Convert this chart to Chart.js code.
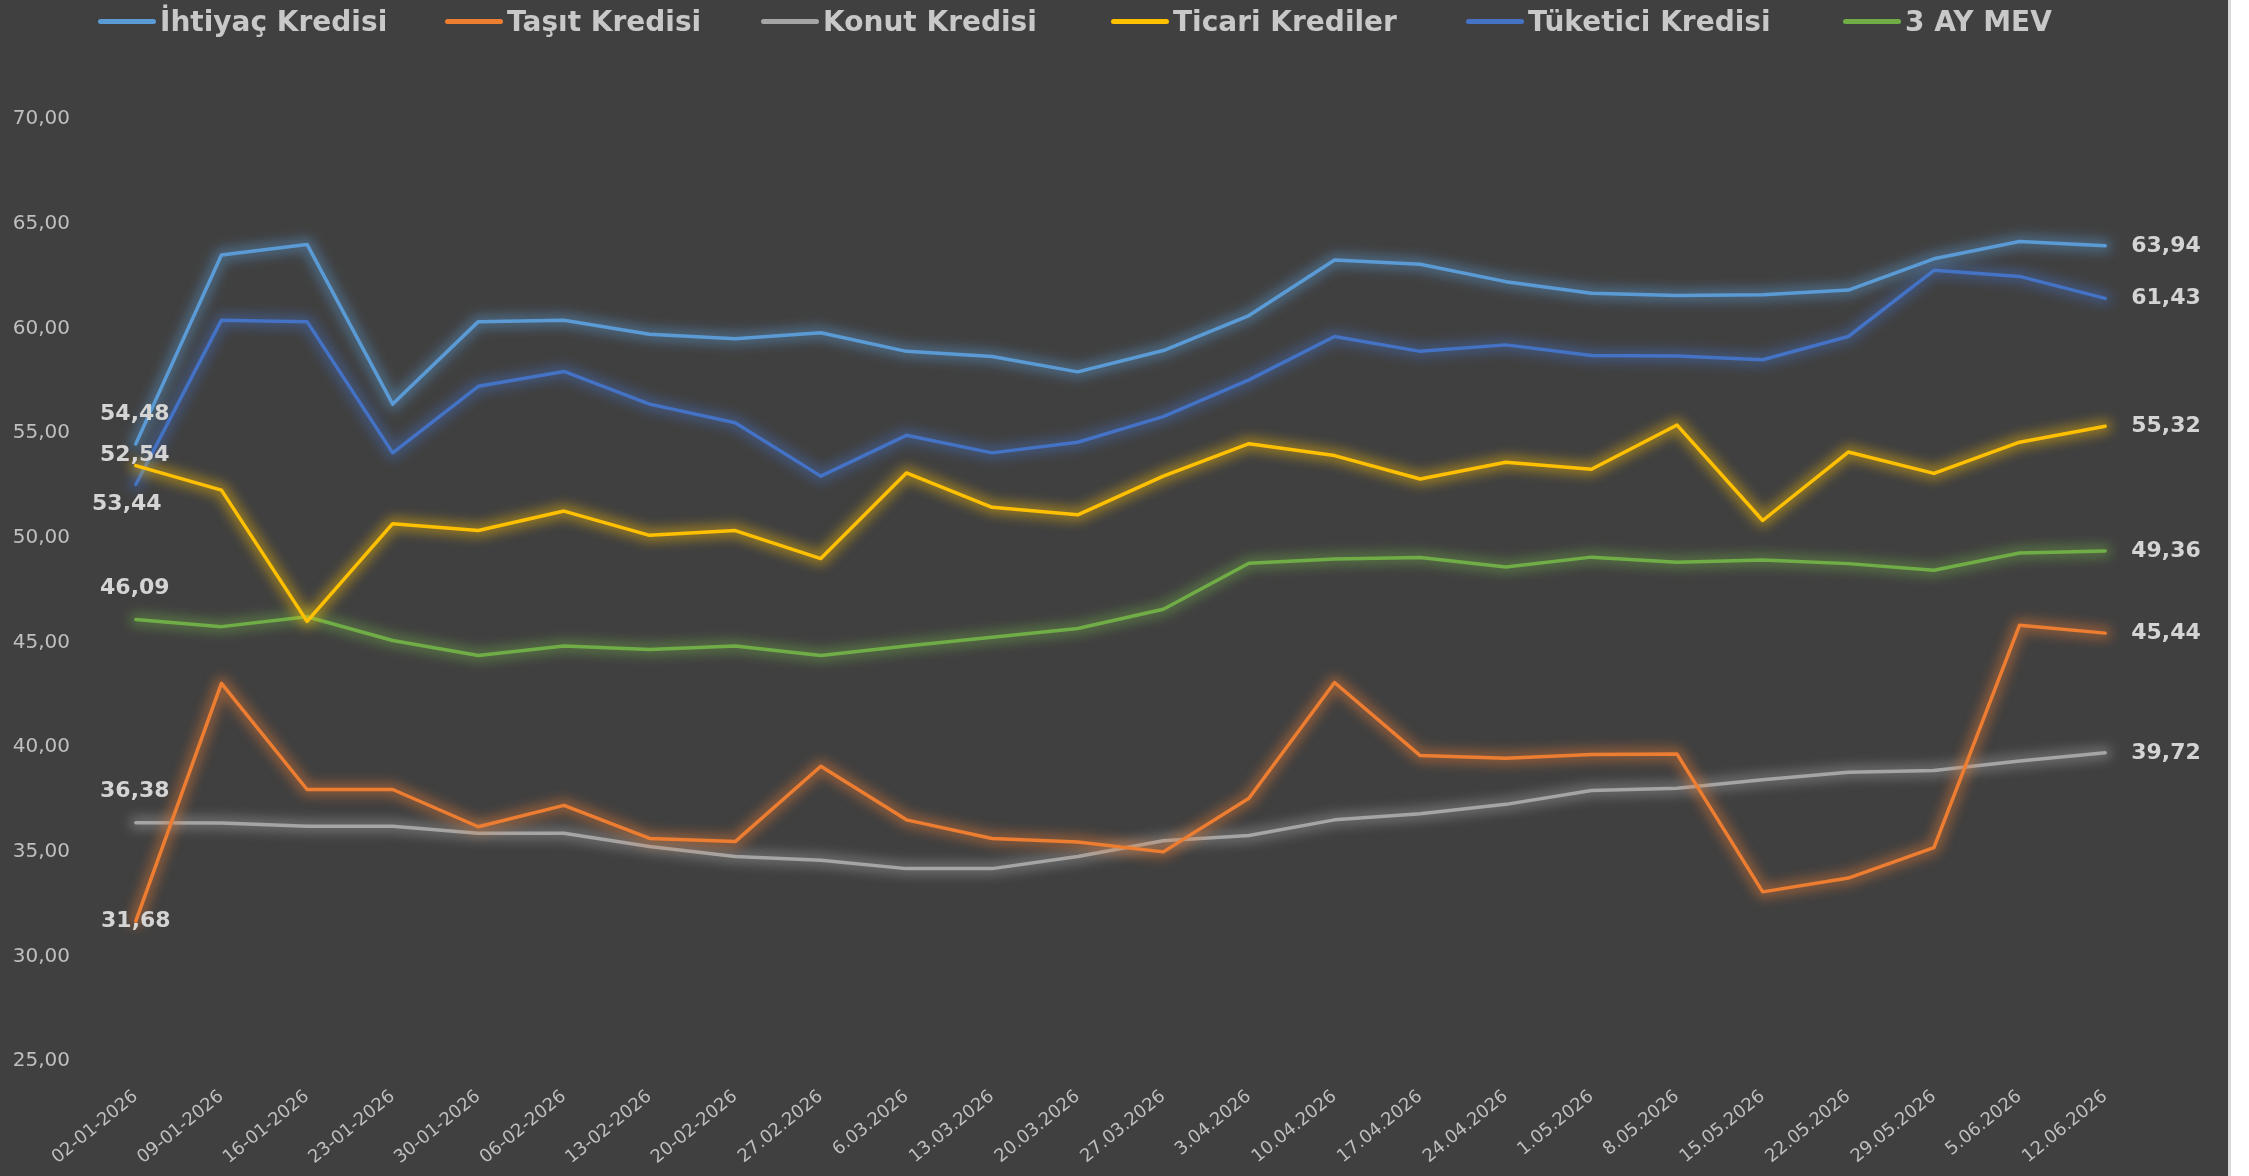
<!DOCTYPE html>
<html>
<head>
<meta charset="utf-8">
<script src="https://cdn.jsdelivr.net/npm/chart.js@4.4.1/dist/chart.umd.min.js"></script>
<style>
    html, body { margin: 0; padding: 0; background: #ffffff; }
    #wrap { position: relative; width: 2228px; height: 1176px; background: #404040; border-right: 3px solid #d9d9d9; }
    #chart { position: absolute; left: 0; top: 0; }
    .legendItem { position: absolute; top: 4px; height: 34px; display: flex; align-items: center; white-space: nowrap;
        font: bold 28px "DejaVu Sans", sans-serif; color: #c8c8c8; }
    .legendLine { width: 58px; height: 5px; border-radius: 3px; margin-right: 4px; }
</style>
</head>
<body>
<div id="wrap">
    <canvas id="chart" width="2228" height="1176"></canvas>
    <div id="legend"></div>
</div>
<script>
const dates = ['02-01-2026', '09-01-2026', '16-01-2026', '23-01-2026', '30-01-2026', '06-02-2026',
    '13-02-2026', '20-02-2026', '27.02.2026', '6.03.2026', '13.03.2026', '20.03.2026', '27.03.2026',
    '3.04.2026', '10.04.2026', '17.04.2026', '24.04.2026', '1.05.2026', '8.05.2026', '15.05.2026',
    '22.05.2026', '29.05.2026', '5.06.2026', '12.06.2026'];

const seriesNames = ['İhtiyaç Kredisi', 'Taşıt Kredisi', 'Konut Kredisi', 'Ticari Krediler', 'Tüketici Kredisi', '3 AY MEV'];

const ihtiyac = [54.48, 63.50, 64.01, 56.38, 60.32, 60.39, 59.72, 59.50, 59.79, 58.90, 58.65, 57.92,
    58.94, 60.61, 63.26, 63.06, 62.23, 61.68, 61.57, 61.61, 61.83, 63.32, 64.15, 63.94];
const tasit = [31.68, 43.04, 37.97, 37.97, 36.19, 37.21, 35.63, 35.48, 39.08, 36.52, 35.63, 35.46,
    34.99, 37.55, 43.08, 39.59, 39.46, 39.64, 39.66, 33.08, 33.74, 35.19, 45.82, 45.44];
const konut = [36.38, 36.37, 36.21, 36.21, 35.88, 35.88, 35.25, 34.77, 34.59, 34.19, 34.19, 34.77,
    35.52, 35.77, 36.52, 36.81, 37.26, 37.92, 38.03, 38.44, 38.79, 38.88, 39.33, 39.72];
const ticari = [53.44, 52.27, 46.00, 50.67, 50.34, 51.27, 50.11, 50.34, 49.00, 53.09, 51.45, 51.09,
    52.94, 54.49, 53.92, 52.80, 53.60, 53.27, 55.38, 50.82, 54.09, 53.07, 54.56, 55.32];
const tuketici = [52.54, 60.39, 60.32, 54.05, 57.23, 57.94, 56.38, 55.49, 52.94, 54.89, 54.05, 54.56,
    55.78, 57.54, 59.61, 58.90, 59.21, 58.70, 58.68, 58.50, 59.61, 62.77, 62.48, 61.43];
const mev = [46.09, 45.75, 46.22, 45.09, 44.37, 44.82, 44.66, 44.82, 44.37, 44.82, 45.24, 45.66,
    46.58, 48.78, 48.98, 49.05, 48.60, 49.07, 48.82, 48.93, 48.76, 48.44, 49.27, 49.36];

const yMin = 25;
const yMax = 70;
const yStep = 5;

const colors = ['#5B9BD5', '#ED7D31', '#A5A5A5', '#FFC000', '#4472C4', '#70AD47'];
// offset of the first value label from its point (x, y)
const firstLabelOffset = [[-1, -30], [0, 0], [-1, -31], [-9, 39], [-1, -29], [-1, -31]];
const legendLeft = [98, 445, 761, 1111, 1466, 1843];

function fmt(v) {
    return v.toFixed(2).replace('.', ',');
}

const allSeries = [ihtiyac, tasit, konut, ticari, tuketici, mev];

// legend
const legend = document.getElementById('legend');
seriesNames.forEach(function (name, i) {
    const item = document.createElement('div');
    item.className = 'legendItem';
    item.style.left = legendLeft[i] + 'px';
    item.innerHTML = '<span class="legendLine" style="background:' + colors[i] + '"></span>' + name;
    legend.appendChild(item);
});

// soft glow under every line, drawn through the dataset's own points
const glowPlugin = {
    id: 'glow',
    beforeDatasetDraw(chart, args) {
        const ctx = chart.ctx;
        const pts = args.meta.data;
        ctx.save();
        ctx.filter = 'blur(6px)';
        ctx.globalAlpha = 0.45;
        ctx.strokeStyle = colors[args.index];
        ctx.lineWidth = 13;
        ctx.lineJoin = 'round';
        ctx.lineCap = 'round';
        ctx.beginPath();
        pts.forEach(function (p, k) {
            if (k === 0) ctx.moveTo(p.x, p.y);
            else ctx.lineTo(p.x, p.y);
        });
        ctx.stroke();
        ctx.restore();
    }
};

const endLabels = {
    id: 'endLabels',
    afterDatasetsDraw(chart) {
        const ctx = chart.ctx;
        ctx.save();
        ctx.font = 'bold 22px "DejaVu Sans"';
        ctx.fillStyle = '#d4d4d4';
        ctx.textBaseline = 'middle';
        chart.data.datasets.forEach(function (ds, i) {
            const pts = chart.getDatasetMeta(i).data;
            const first = pts[0];
            const last = pts[pts.length - 1];
            ctx.textAlign = 'center';
            ctx.fillText(fmt(ds.data[0]), first.x + firstLabelOffset[i][0], first.y + firstLabelOffset[i][1]);
            ctx.textAlign = 'left';
            ctx.fillText(fmt(ds.data[ds.data.length - 1]), last.x + 26, last.y);
        });
        ctx.restore();
    }
};

new Chart(document.getElementById('chart'), {
    type: 'line',
    data: {
        labels: dates,
        datasets: allSeries.map(function (values, i) {
            return {
                label: seriesNames[i],
                data: values,
                borderColor: colors[i],
                backgroundColor: colors[i],
                borderWidth: 3.5,
                borderCapStyle: 'round',
                borderJoinStyle: 'round',
                pointRadius: 0,
                tension: 0
            };
        })
    },
    options: {
        responsive: false,
        devicePixelRatio: 1,
        animation: false,
        layout: {
            padding: {top: 119, right: 80, bottom: 0, left: 0}
        },
        plugins: {
            legend: {display: false},
            tooltip: {enabled: false}
        },
        scales: {
            x: {
                offset: true,
                grid: {display: false, drawTicks: false},
                border: {display: false},
                ticks: {
                    autoSkip: false,
                    minRotation: 39,
                    maxRotation: 39,
                    padding: 25,
                    color: '#bfbfbf',
                    font: {family: 'DejaVu Sans', size: 18}
                },
                afterFit(scale) {
                    scale.height = 115;
                }
            },
            y: {
                min: yMin,
                max: yMax,
                grid: {display: false, drawTicks: false},
                border: {display: false},
                ticks: {
                    stepSize: yStep,
                    padding: 23,
                    color: '#bfbfbf',
                    font: {family: 'DejaVu Sans', size: 20},
                    callback: function (v) { return fmt(v); }
                },
                afterFit(scale) {
                    scale.width = 93;
                }
            }
        }
    },
    plugins: [glowPlugin, endLabels]
});
</script>
</body>
</html>
